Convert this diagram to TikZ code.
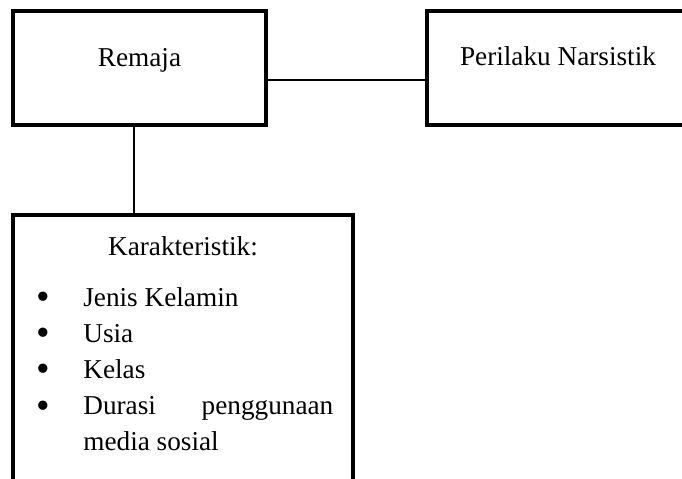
\documentclass[tikz,border=0pt]{standalone}
\usepackage{fontspec}
\setmainfont{Liberation Serif}
\usetikzlibrary{positioning}
\newcommand{\butir}{\leavevmode\llap{\raisebox{-0.07cm}{\fontsize{22}{22}\selectfont\textbullet}\hspace{0.66cm}}}

\begin{document}
\begin{tikzpicture}[
		kotak/.style={draw, line width=2.3pt, inner sep=0pt, align=center,
			font=\fontsize{15.5}{18}\selectfont},
		garis/.style={line width=0.6pt}
	]
	\clip (0,0) rectangle (13.64,-9.58);

	\node[kotak, minimum width=5.06cm, text height=1.1cm, text depth=1.18cm]
		(remaja) at (2.79,-1.36) {Remaja};

	\node[kotak, minimum width=5.24cm, text height=1.08cm, text depth=1.2cm]
		(narsis) at (11.16,-1.36) {Perilaku Narsistik};

	\node[kotak, anchor=north, minimum width=6.8cm, text height=0.8cm, text depth=4.94cm]
		(karakter) at (3.66,-4.26) {Karakteristik:};

	\node[anchor=base west, inner sep=0pt, text width=5cm, align=justify,
		font=\fontsize{15.5}{20.6}\selectfont]
		(ciri) at (1.66,-6.12) {%
			\butir Jenis Kelamin\\
			\butir Usia\\
			\butir Kelas\\
			\butir Durasi penggunaan media sosial};

	% garis penghubung
	\coordinate (sambung) at ([yshift=-0.24cm]remaja.east);
	\draw[garis] (sambung) -- (sambung -| narsis.west);

	\coordinate (turun) at ([xshift=-0.11cm]remaja.south);
	\draw[garis] (turun) -- (turun |- karakter.north);
\end{tikzpicture}
\end{document}
